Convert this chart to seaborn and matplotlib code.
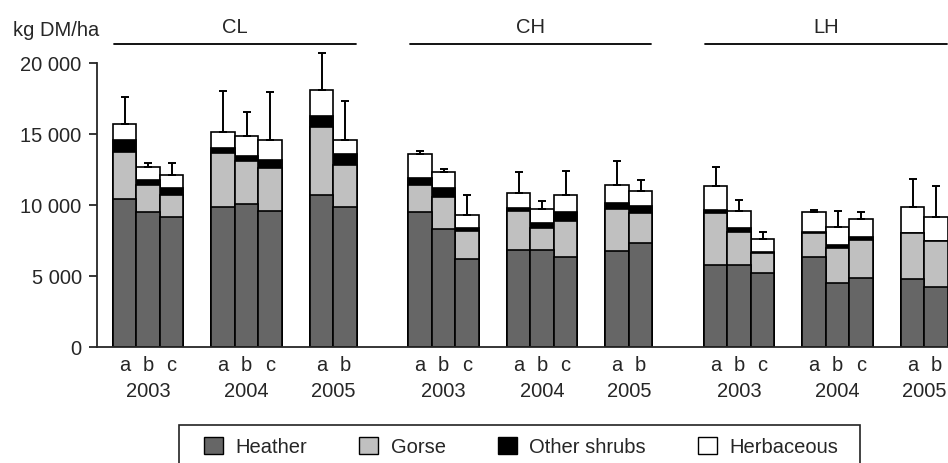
import numpy as np
import pandas as pd
import matplotlib
matplotlib.use("Agg")
import matplotlib.pyplot as plt
from matplotlib.patches import Patch, Rectangle
from matplotlib.ticker import FuncFormatter
import seaborn as sns

sns.set_style("ticks")
plt.rcParams['font.family'] = ['Liberation Sans', 'DejaVu Sans']
plt.rcParams['font.size'] = 14.5

# data (kg DM/ha)
sites = ["CL", "CH", "LH"]
years = ["2003", "2004", "2005"]
treat = [["a", "b", "c"], ["a", "b", "c"], ["a", "b"],
         ["a", "b", "c"], ["a", "b", "c"], ["a", "b"],
         ["a", "b", "c"], ["a", "b", "c"], ["a", "b"]]

heather = [10370, 9440, 9100, 9830, 10020, 9550, 10700, 9830,
           9440, 8260, 6170, 6830, 6830, 6290, 6710, 7300,
           5730, 5730, 5160, 6270, 4460, 4790, 4740, 4180]
gorse = [3360, 1920, 1550, 3780, 3030, 3050, 4740, 2940,
         1920, 2250, 1930, 2700, 1550, 2530, 2940, 2110,
         3660, 2350, 1390, 1690, 2480, 2720, 3220, 3240]
other = [820, 370, 520, 380, 370, 520, 800, 770,
         490, 640, 230, 190, 350, 640, 490, 450,
         210, 230, 70, 70, 240, 210, 50, 40]
herb = [1100, 920, 910, 1100, 1370, 1410, 1810, 990,
        1690, 1150, 940, 1100, 960, 1240, 1240, 1100,
        1690, 1240, 960, 1410, 1240, 1270, 1820, 1670]
sd = [1950, 280, 870, 2890, 1730, 3400, 2630, 2770,
      240, 210, 1410, 1480, 540, 1690, 1690, 750,
      1380, 780, 450, 180, 1130, 490, 2000, 2140]

# bar positions: 9 site-year groups, bars touching inside a group
xpos, grp = [], []
for g, labs in enumerate(treat):
    for j in range(len(labs)):
        xpos.append(g * 4.2 + j)
        grp.append(g)
xpos = np.round(np.array(xpos), 3)
grp = np.array(grp)
labels = [l for labs in treat for l in labs]

df = pd.DataFrame({"x": xpos, "heather": heather, "gorse": gorse,
                   "other": other, "herb": herb, "sd": sd})
df["c1"] = df["heather"]
df["c2"] = df["c1"] + df["gorse"]
df["c3"] = df["c2"] + df["other"]
df["c4"] = df["c3"] + df["herb"]

fig = plt.figure(figsize=(9.48, 4.64), dpi=100)
ax = fig.add_axes([97 / 948, 116.5 / 464, 1 - 97 / 948, 312.4 / 464])

# stacked look: draw cumulative totals, tallest first
cols = {"c4": "white", "c3": "black", "c2": "#c0c0c0", "c1": "#666666"}
for c, colr in cols.items():
    sns.barplot(data=df, x="x", y=c, native_scale=True, orient="x", width=1,
                color=colr, saturation=1, edgecolor="black", linewidth=1.2,
                errorbar=None, ax=ax)

ax.errorbar(df["x"], df["c4"], yerr=[np.zeros(len(df)), df["sd"]], fmt="none",
            ecolor="black", elinewidth=1.4, capsize=3, capthick=1.4, zorder=5)

ax.set_ylim(0, 22000)
ax.set_xlim(-1.18, 35.11)
ax.set_yticks([0, 5000, 10000, 15000, 20000])
ax.yaxis.set_major_formatter(FuncFormatter(lambda v, p: f"{int(v):,}".replace(",", " ")))
ax.set_xticks(xpos)
ax.set_xticklabels(labels)
ax.tick_params(axis="x", length=0, pad=6)
ax.tick_params(axis="y", length=6, width=1.3, pad=5)
ax.set_xlabel("")
ax.set_ylabel("")
sns.despine(ax=ax)
ax.spines["left"].set_bounds(0, 20000)
ax.spines["left"].set_linewidth(1.3)
ax.spines["bottom"].set_linewidth(1.3)

# year labels under each group
for g in range(9):
    xs = xpos[grp == g]
    ax.text(xs.mean(), -0.142, years[g % 3],
            transform=ax.get_xaxis_transform(), ha="center", va="center")

# site headers with lines
for s in range(3):
    xs = xpos[(grp >= 3 * s) & (grp < 3 * s + 3)]
    x0, x1 = xs.min() - 0.45, xs.max() + 0.45
    ax.plot([x0, x1], [21320, 21320], color="black", lw=1.3, clip_on=False)
    ax.text((x0 + x1) / 2, 22570, sites[s], ha="center", va="center", clip_on=False)

fig.text(13 / 948, (464 - 30) / 464, "kg DM/ha", ha="left", va="center")

handles = [Patch(facecolor="#666666", edgecolor="black", label="Heather"),
           Patch(facecolor="#c0c0c0", edgecolor="black", label="Gorse"),
           Patch(facecolor="black", edgecolor="black", label="Other shrubs"),
           Patch(facecolor="white", edgecolor="black", label="Herbaceous")]
fig.legend(handles=handles, loc="center left", bbox_to_anchor=(204 / 948, 16.5 / 464),
           ncol=4, frameon=False, borderpad=0, borderaxespad=0,
           handlelength=0.95, handleheight=0.95, handletextpad=0.6,
           columnspacing=2.6)
fig.patches.append(Rectangle((179 / 948, -0.05), 681 / 948, 38.3 / 464 + 0.05,
                             transform=fig.transFigure, fill=False,
                             edgecolor="#222222", lw=1.2))

fig.savefig("out.png", dpi=100)
